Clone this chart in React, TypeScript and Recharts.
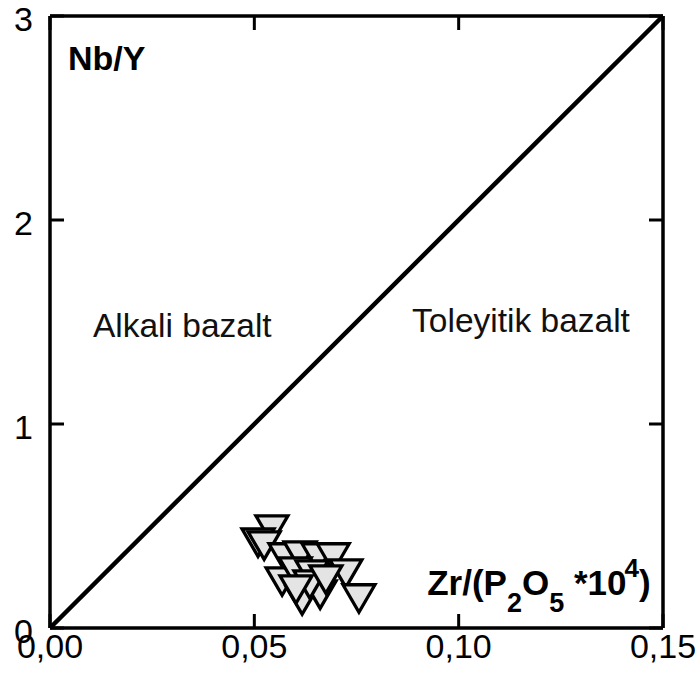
import React from 'react';
import {
  ScatterChart,
  Scatter,
  XAxis,
  YAxis,
  ReferenceLine,
  ReferenceDot,
} from 'recharts';

// ---- data ----
const xTicks = [0, 0.05, 0.1, 0.15];
const yTicks = [0, 1, 2, 3];
const xValues = [0.0543, 0.0509, 0.0524, 0.0575, 0.0612, 0.0656, 0.0693, 0.0568, 0.06, 0.0641, 0.0724, 0.0756, 0.0617, 0.0661, 0.0636, 0.0602, 0.0675];
const yValues = [0.505, 0.441, 0.426, 0.368, 0.377, 0.368, 0.368, 0.25, 0.299, 0.284, 0.289, 0.167, 0.157, 0.186, 0.235, 0.211, 0.26];
const dividerLine = [
  { x: 0, y: 0 },
  { x: 0.15, y: 3 },
];
const fieldLabels = [
  { text: 'Alkali bazalt', x: 0.0105, y: 1.426 },
  { text: 'Toleyitik bazalt', x: 0.0886, y: 1.451 },
];

const points = xValues.map((x, i) => ({ x, y: yValues[i] }));

const FONT = '"Liberation Sans", Arial, Helvetica, sans-serif';
const fmtX = (v: number) => v.toFixed(2).replace('.', ',');

const DownTri = (props: any) => {
  const { cx, cy } = props;
  if (cx == null || cy == null) return null;
  const w = 32;
  const h = 27.5;
  const d = `M${cx - w / 2},${cy - h / 3} L${cx + w / 2},${cy - h / 3} L${cx},${cy + (2 * h) / 3} Z`;
  return <path d={d} fill="#e4e4e4" stroke="#000" strokeWidth={3.3} strokeLinejoin="miter" />;
};

const Nothing = () => null;

const BottomTick = (props: any) => {
  const { x, y, payload } = props;
  return (
    <text x={x} y={y + 30} textAnchor="middle" fontSize={34} fontFamily={FONT} fill="#000">
      {fmtX(payload.value)}
    </text>
  );
};

const LeftTick = (props: any) => {
  const { x, y, payload } = props;
  return (
    <text x={x - 17} y={y + 15} textAnchor="end" fontSize={34} fontFamily={FONT} fill="#000">
      {String(payload.value)}
    </text>
  );
};

const axisLine = { stroke: '#000', strokeWidth: 3.5 };
const tickLine = { stroke: '#000', strokeWidth: 3 };

export default function App() {
  return (
    <div style={{ position: 'absolute', left: 0, top: 0, width: 700, height: 679, background: '#fff' }}>
      <ScatterChart width={700} height={679} margin={{ top: 15, right: 36, bottom: 0, left: 0 }}>
        <XAxis
          dataKey="x"
          type="number"
          domain={[0, 0.15]}
          ticks={xTicks}
          interval={0}
          tickSize={-14}
          tickMargin={14}
          height={51}
          axisLine={axisLine}
          tickLine={tickLine}
          tick={<BottomTick />}
          allowDataOverflow
        />
        <XAxis
          xAxisId="top"
          dataKey="x"
          orientation="top"
          type="number"
          domain={[0, 0.15]}
          ticks={xTicks}
          interval={0}
          tickSize={-14}
          tickMargin={14}
          height={1}
          axisLine={axisLine}
          tickLine={tickLine}
          tick={<Nothing />}
          allowDataOverflow
        />
        <YAxis
          dataKey="y"
          type="number"
          domain={[0, 3]}
          ticks={yTicks}
          interval={0}
          tickSize={-14}
          tickMargin={14}
          width={50}
          axisLine={axisLine}
          tickLine={tickLine}
          tick={<LeftTick />}
          allowDataOverflow
        />
        <YAxis
          yAxisId="right"
          dataKey="y"
          orientation="right"
          type="number"
          domain={[0, 3]}
          ticks={yTicks}
          interval={0}
          tickSize={-14}
          tickMargin={14}
          width={1}
          axisLine={axisLine}
          tickLine={tickLine}
          tick={<Nothing />}
          allowDataOverflow
        />
        <ReferenceLine segment={dividerLine} stroke="#000" strokeWidth={4.5} ifOverflow="visible" />
        <Scatter
          data={points}
          xAxisId="top"
          yAxisId="right"
          shape={<Nothing />}
          isAnimationActive={false}
        />
        <Scatter data={points} shape={<DownTri />} isAnimationActive={false} />
        <ReferenceDot
          x={0.0044}
          y={2.735}
          ifOverflow="visible"
          shape={(p: any) => (
            <text x={p.cx} y={p.cy} fontSize={34} fontWeight="bold" fontFamily={FONT} fill="#000">
              Nb/Y
            </text>
          )}
        />
        {fieldLabels.map((f) => (
          <ReferenceDot
            key={f.text}
            x={f.x}
            y={f.y}
            ifOverflow="visible"
            shape={(p: any) => (
              <text x={p.cx} y={p.cy} fontSize={33.5} fontFamily={FONT} fill="#111">
                {f.text}
              </text>
            )}
          />
        ))}
        <ReferenceDot
          x={0.0923}
          y={0.162}
          ifOverflow="visible"
          shape={(p: any) => (
            <text x={p.cx} y={p.cy} fontSize={35} fontWeight="bold" fontFamily={FONT} fill="#000">
              <tspan>Zr/(P</tspan>
              <tspan fontSize={27} dy={17}>2</tspan>
              <tspan dy={-17}>O</tspan>
              <tspan fontSize={27} dy={17}>5</tspan>
              <tspan dy={-17}> *10</tspan>
              <tspan fontSize={26} dy={-18} dx={-2}>4</tspan>
              <tspan dy={18}>)</tspan>
            </text>
          )}
        />
      </ScatterChart>
    </div>
  );
}
